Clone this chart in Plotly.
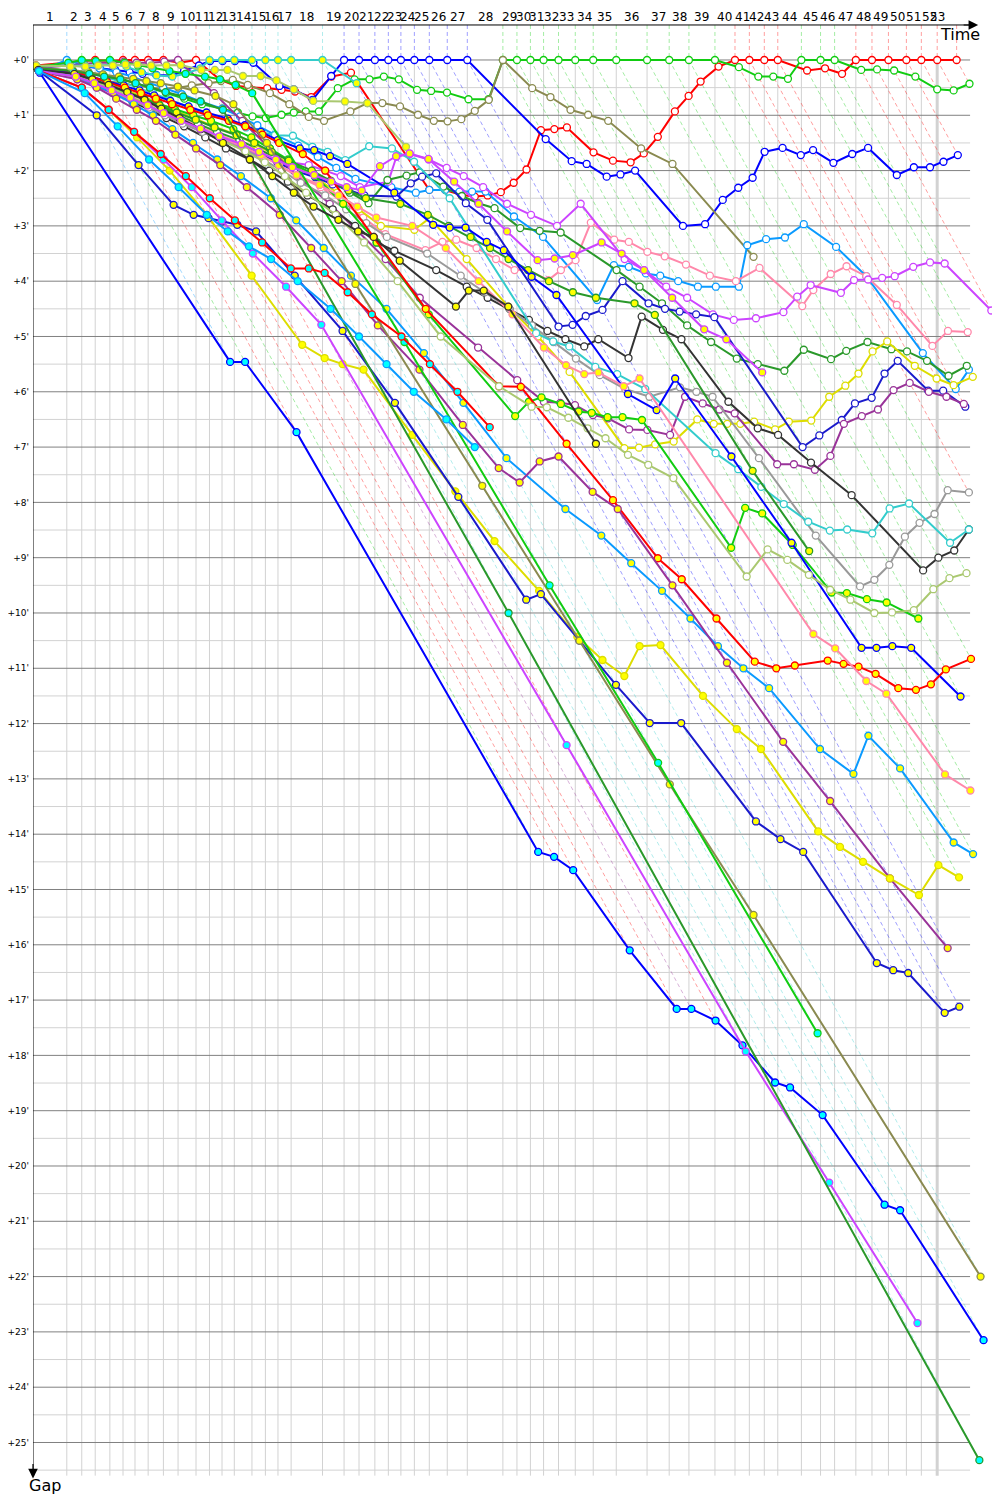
import plotly.graph_objects as go

# Leader's cumulative time (minutes) at the end of each lap, lap 0 .. 53
LAP_END = [0.00, 1.13, 1.63, 2.08, 2.57, 3.01, 3.41, 3.85, 4.36, 4.85, 5.45,
           5.90, 6.32, 6.73, 7.32, 7.77, 8.19, 8.63, 9.68, 10.40, 10.90,
           11.43, 11.88, 12.30, 12.75, 13.25, 13.85, 14.52, 15.71, 16.18, 16.63,
           17.07, 17.57, 18.13, 18.73, 19.50, 20.53, 21.27, 21.93, 22.80, 23.47,
           23.95, 24.45, 24.90, 25.69, 26.33, 26.80, 27.51, 28.05, 28.60, 29.20,
           29.70, 30.23, 30.88]
LAP_LABELS = [str(i) for i in range(1, 54)]
GAP_TICKS = list(range(0, 26))
GAP_LABELS = ["+%d'" % g for g in GAP_TICKS]

# Gap to the leader (minutes) of each car, lap 0, 1, 2, ...
RED_W = [0.10, 0.05, 0.03, 0.00, 0.02, 0.00, 0.00, 0.00, 0.00, 0.05, 0.00,
         0.36, 0.47, 0.49, 0.51, 0.54, 0.57, 0.67, 0.30, 0.23,
         2.35, 2.35, 2.44, 2.47, 2.45, 2.39, 2.22, 1.98,
         1.27, 1.25, 1.22, 1.67, 1.82, 1.85, 1.69, 1.39, 0.93, 0.65, 0.39, 0.12,
         0.00, 0.00, 0.00, 0.00, 0.19, 0.15, 0.25,
         0.00, 0.00, 0.00, 0.00, 0.00, 0.00, 0.00]
GREEN_W = [0.15, 0.20, 0.22, 0.28, 0.33, 0.42, 0.50, 0.60, 0.70, 0.80, 0.88,
           0.95, 1.02, 1.05, 0.99, 0.95, 0.93, 0.93, 0.51, 0.35, 0.35, 0.30,
           0.35, 0.54, 0.56, 0.59, 0.71, 0.71,
           0.00, 0.00, 0.00, 0.00, 0.00, 0.00, 0.00, 0.00, 0.00, 0.00, 0.00, 0.00,
           0.13, 0.30, 0.30, 0.34, 0.00, 0.00, 0.00,
           0.18, 0.17, 0.19, 0.30, 0.53, 0.55, 0.43]
BLUE_W = [0.12, 0.10, 0.12, 0.15, 0.18, 0.22, 0.25, 0.27, 0.28, 0.20, 0.10,
          0.02, 0.02, 0.02, 0.05, 0.47, 0.53, 0.72, 0.29,
          0.00, 0.00, 0.00, 0.00, 0.00, 0.00, 0.00, 0.00, 0.00,
          1.43, 1.83, 1.88, 2.11, 2.07, 2.00, 3.00, 2.97, 2.53, 2.31, 2.13, 1.66,
          1.59, 1.72, 1.63, 1.86, 1.70, 1.59, 2.08, 1.94, 1.94, 1.84, 1.72]
OLIVE_W = [0.20, 0.28, 0.33, 0.38, 0.42, 0.46, 0.50, 0.52, 0.50, 0.46, 0.42,
           0.38, 0.36, 0.45, 0.60, 0.80, 1.03, 1.10, 0.93, 0.78, 0.78, 0.84,
           0.99, 1.10, 1.11, 1.07, 0.92, 0.72, 0.00, 0.51, 0.67, 0.90, 0.99,
           1.10, 1.60, 1.88, 3.56]
DODGER_W = [0.20, 0.00, 0.10, 0.15, 0.22, 0.30, 0.40, 0.50, 0.62, 0.75, 0.88,
            1.02, 1.18, 1.35, 1.55, 1.75, 1.95, 2.15, 2.30, 2.40, 2.35, 2.35,
            2.38, 2.38, 2.38, 2.83, 3.20, 4.34, 3.71, 3.74, 3.86, 3.90, 4.00,
            4.10, 4.10, 4.10, 3.35, 3.24, 3.21, 2.97, 3.38, 3.91, 5.30, 5.95, 5.60]
PINK_W = [0.20, 0.30, 0.40, 0.50, 0.60, 0.75, 0.90, 1.05, 1.20, 1.35, 1.50,
          1.70, 1.90, 2.10, 2.30, 2.55, 2.85, 3.15, 3.44, 3.29, 3.25, 3.40,
          3.60, 3.80, 3.80, 3.98, 3.80, 3.62, 2.94, 3.25, 3.29, 3.47, 3.55,
          3.70, 3.90, 4.00, 3.76, 4.45, 4.16, 3.87, 3.73, 3.91, 4.43, 5.17,
          4.90, 4.92]
MAGENTA_W = [0.20, 0.35, 0.50, 0.60, 0.70, 0.85, 1.00, 1.15, 1.30, 1.45, 1.60,
             1.75, 1.80, 1.85, 1.90, 2.00, 2.10, 2.30, 2.20, 1.75, 1.70, 1.80,
             1.95, 2.10, 2.30, 2.60, 2.80, 3.00, 2.60, 3.60, 3.80, 4.10, 4.30,
             4.60, 4.70, 4.67, 4.56, 4.28, 4.07, 4.21, 3.98, 3.97, 3.94, 3.91,
             3.74, 3.66, 3.68, 4.53]
FOREST_W = [0.15, 0.25, 0.35, 0.45, 0.55, 0.70, 0.85, 1.00, 1.15, 1.30, 1.45,
            1.60, 1.75, 1.90, 2.05, 2.20, 2.40, 2.59, 2.17, 2.09, 2.03, 2.29,
            2.46, 2.59, 2.68, 3.04, 3.09, 3.12, 3.80, 4.10, 4.40, 4.80, 5.10,
            5.40, 5.50, 5.62, 5.24, 5.41, 5.26, 5.10, 5.23, 5.27, 5.44, 5.71, 5.53]
YELLOW_W = [0.20, 0.28, 0.36, 0.45, 0.55, 0.65, 0.78, 0.92, 1.06, 1.20, 1.35,
            1.52, 1.70, 1.90, 2.12, 2.40, 2.70, 3.00, 3.07, 2.86, 3.60, 4.46,
            5.00, 5.64, 7.02, 7.01, 6.95, 6.90, 6.50, 6.58, 6.58, 6.58, 6.54,
            6.68, 6.54, 6.52, 6.09, 5.89, 5.67, 5.27, 5.09, 5.53, 5.76, 5.88, 5.73]
NAVY_W = [0.18, 0.30, 0.42, 0.55, 0.68, 0.82, 0.96, 1.10, 1.25, 1.40, 1.55,
          1.70, 1.85, 2.00, 2.12, 2.25, 2.35, 2.45, 2.47, 2.23, 2.11, 2.05,
          2.59, 2.89, 4.82, 4.79, 4.63, 4.52, 4.00, 4.40, 4.50, 4.55, 4.60,
          4.65, 7.00, 6.79, 6.51, 6.21, 6.11, 5.67, 5.44, 5.98, 5.98, 6.27]
PURPLE_W = [0.15, 0.10, 0.08, 0.05, 0.05, 0.03, 0.05, 0.05, 0.03, 0.00, 0.60,
            1.10, 1.60, 2.10, 2.60, 3.10, 3.60, 4.30, 5.20, 5.79, 6.18, 6.20,
            6.24, 6.42, 6.48, 6.68, 6.69, 6.78, 6.09, 6.21, 6.32, 6.39, 7.31,
            7.31, 7.41, 7.16, 6.58, 6.44, 6.32, 5.97, 5.84, 6.00, 6.09, 6.22]
BLACK_W = [0.20, 0.30, 0.45, 0.60, 0.75, 0.90, 1.05, 1.20, 1.40, 1.60, 1.80,
           2.00, 2.20, 2.45, 2.70, 3.00, 3.30, 3.45, 3.80, 4.10, 4.30, 4.50,
           4.70, 4.90, 5.05, 5.18, 5.05, 5.39, 4.64, 4.88, 5.05, 6.18, 6.66,
           6.78, 7.28, 7.87, 9.23, 9.00, 8.87, 8.49]
GRAY_W = [0.20, 0.32, 0.45, 0.58, 0.72, 0.86, 1.00, 1.15, 1.30, 1.46, 1.62,
          1.80, 2.00, 2.22, 2.45, 2.70, 2.95, 3.20, 3.50, 3.90, 4.20, 4.50,
          4.80, 5.10, 5.40, 5.70, 5.95, 6.09, 5.92, 6.00, 6.09, 7.20, 8.60,
          9.52, 9.40, 9.13, 8.62, 8.37, 8.21, 7.78, 7.82]
TURQ_W = [0.15, 0.20, 0.25, 0.30, 0.40, 0.50, 0.60, 0.72, 0.85, 0.98, 1.10,
          1.22, 1.30, 1.36, 1.37, 1.57, 1.66, 1.81, 1.56, 1.60, 1.84, 2.50,
          4.94, 5.09, 5.18, 5.55, 5.68, 5.95, 7.11, 7.40, 7.72, 8.03, 8.35,
          8.51, 8.49, 8.56, 8.11, 8.02, 8.73, 8.49]
TURQ_Y = [0.12, 0.10, 0.10, 0.10, 0.08, 0.12, 0.22, 0.28, 0.30, 0.25, 0.15,
          0.00, 0.00, 0.00, 0.00, 0.00, 0.00, 0.00, 0.00, 0.42]
GREEN_Y = [0.20, 0.30, 0.40, 0.50, 0.60, 0.70, 0.80, 0.90, 1.00, 1.10, 1.25,
           1.40, 1.60, 1.80, 2.10, 2.60, 3.30, 4.60, 6.44, 6.18, 6.10, 6.22,
           6.36, 6.38, 6.46, 6.46, 6.51, 8.82, 8.10, 8.20, 8.77, 9.63, 9.64,
           9.75, 9.81, 10.10]
FOREST_Y = [0.18, 0.28, 0.38, 0.48, 0.58, 0.70, 0.82, 0.95, 1.08, 1.22, 1.36,
            1.50, 1.66, 1.82, 2.00, 2.18, 2.36, 2.50, 2.60, 2.80, 3.00, 3.20,
            3.40, 3.60, 3.80, 4.00, 4.20, 4.30, 4.40, 4.61, 7.43, 8.88]
BLUE_Y = [0.15, 0.22, 0.30, 0.38, 0.46, 0.55, 0.64, 0.74, 0.84, 0.95, 1.06,
          1.18, 1.30, 1.45, 1.60, 1.63, 1.74, 1.88, 2.40, 2.98, 3.03, 3.03,
          3.29, 3.44, 3.92, 4.25, 6.04, 6.33, 5.76, 7.17, 8.73, 10.63, 10.63,
          10.60, 10.63, 11.51]
RED_Y = [0.15, 0.20, 0.30, 0.40, 0.50, 0.60, 0.70, 0.80, 0.90, 1.00, 1.10,
         1.20, 1.35, 1.50, 1.70, 2.00, 3.20, 4.50, 5.90, 5.91, 6.94, 7.96,
         9.01, 9.39, 10.10, 10.88, 11.00, 10.95, 10.86, 10.92, 10.97, 11.10,
         11.36, 11.39, 11.29, 11.02, 10.83]
PINK_Y = [0.20, 0.30, 0.42, 0.55, 0.68, 0.82, 0.96, 1.10, 1.25, 1.40, 1.56,
          1.72, 1.90, 2.08, 2.26, 2.45, 2.65, 2.85, 3.00, 3.40, 4.00, 4.60,
          5.20, 5.52, 5.68, 5.65, 5.90, 5.76, 10.38, 10.64, 11.23, 11.46,
          12.92, 13.21]
DODGER_Y = [0.20, 0.30, 0.45, 0.60, 0.80, 1.00, 1.25, 1.50, 1.80, 2.10, 2.50,
            2.90, 3.40, 3.90, 4.50, 5.30, 6.20, 7.20, 8.12, 8.60, 9.10, 9.60,
            10.10, 10.60, 11.00, 11.36, 12.46, 12.91, 12.22, 12.81, 14.15, 14.36]
PURPLE_Y = [0.20, 0.35, 0.50, 0.70, 0.90, 1.10, 1.35, 1.60, 1.90, 2.30, 2.80,
            3.40, 4.00, 4.80, 5.60, 6.60, 7.38, 7.64, 7.26, 7.17, 7.81, 8.12,
            9.50, 10.90, 12.33, 13.40, 14.80, 16.06]
YELLOW_Y = [0.20, 0.50, 0.90, 1.40, 2.00, 2.80, 3.90, 5.15, 5.39, 5.50, 5.60,
            6.78, 7.80, 8.70, 9.60, 10.43, 10.85, 11.14, 10.60, 10.58, 11.50,
            12.10, 12.46, 13.95, 14.23, 14.50, 14.80, 15.10, 14.56, 14.78]
NAVY_Y = [0.20, 1.00, 1.90, 2.62, 2.80, 2.86, 2.92, 2.98, 3.10, 3.90, 4.90,
          6.20, 7.90, 9.76, 9.66, 10.50, 11.30, 11.99, 11.99, 13.77, 14.09,
          14.32, 16.33, 16.46, 16.51, 17.23, 17.12]
OLIVE_Y = [0.15, 0.18, 0.22, 0.26, 0.30, 0.34, 0.38, 0.42, 0.48, 0.55, 0.65,
           0.80, 1.50, 4.05, 7.70, 10.50, 13.10, 15.46, 22.00]
BLUE_C = [0.23, 5.46, 5.46, 6.73, 14.32, 14.41, 14.65, 16.10, 17.16, 17.16,
          17.37, 17.82, 18.49, 18.58, 19.08, 20.70, 20.80, 23.15]
MAGENTA_C = [0.20, 0.50, 0.90, 1.30, 1.80, 2.30, 2.90, 3.50, 4.10, 4.79,
             12.39, 17.93, 20.30, 22.84]
FOREST_C = [0.15, 0.20, 0.25, 0.30, 0.35, 0.42, 0.50, 0.58, 0.66, 0.75, 0.90,
            10.00, 25.32]
GREEN_C = [0.12, 0.05, 0.00, 0.02, 0.00, 0.05, 0.10, 0.15, 0.20, 0.25, 0.30,
           0.35, 0.45, 0.60, 5.10, 9.50, 12.71, 17.60]
LOLIVE_W = [0.20, 0.30, 0.40, 0.50, 0.65, 0.80, 0.95, 1.10, 1.25, 1.45, 1.65,
            1.85, 2.10, 2.40, 2.80, 3.30, 4.00, 5.00, 5.90, 6.27, 6.28, 6.47,
            6.66, 6.84, 7.14, 7.32, 7.56, 9.34, 8.85, 9.04, 9.31, 9.58, 9.76,
            10.00, 9.99, 9.95, 9.57, 9.37, 9.28]
LOLIVE_Y = [0.10, 0.12, 0.12, 0.10, 0.10, 0.08, 0.08, 0.10, 0.10, 0.09, 0.18,
            0.18, 0.18, 0.29, 0.29, 0.37, 0.53, 0.74, 0.75, 0.78, 1.57]
BLACK_Y = [0.18, 0.25, 0.35, 0.45, 0.58, 0.72, 0.88, 1.05, 1.25, 1.50, 1.80,
           2.10, 2.40, 2.65, 2.89, 3.10, 3.20, 3.63, 4.46, 4.17, 4.17, 4.46, 6.94]
MAGENTA_Y = [0.20, 0.30, 0.42, 0.55, 0.68, 0.82, 0.96, 1.10, 1.24, 1.38, 1.52,
             1.66, 1.80, 1.94, 2.08, 2.20, 2.30, 2.36, 1.92, 1.74, 1.69, 1.79,
             2.20, 2.60, 3.10, 3.62, 3.59, 3.53, 3.30, 3.50, 3.80, 4.30, 4.87,
             5.05, 5.65]
RED_C = [0.20, 0.50, 0.90, 1.30, 1.70, 2.10, 2.50, 2.90, 3.30, 3.77, 3.77,
         3.85, 4.20, 4.60, 5.00, 5.50, 6.00, 6.64]
DODGER_C = [0.20, 0.60, 1.20, 1.80, 2.30, 2.80, 3.10, 3.37, 3.60, 4.00, 4.50,
            5.00, 5.50, 6.00, 6.50, 7.00]

# ---- styles -------------------------------------------------------------
RED, GREEN, BLUE, DODGER = "#ff0000", "#11cc11", "#0000ff", "#0a9aff"
PINK, MAGENTA, FOREST, YELLOW = "#ff88aa", "#cc44ff", "#2a992a", "#dddd00"
NAVY, PURPLE, BLACK, GRAY = "#1a1acc", "#993399", "#333333", "#999999"
TURQ, OLIVE, LOLIVE = "#33cccc", "#8a8a50", "#aac870"
WF, YF, CF = "#ffffff", "#ffff00", "#00ffff"

CARS = [
    (RED_W, RED, WF), (GREEN_W, GREEN, WF), (BLUE_W, BLUE, WF),
    (OLIVE_W, OLIVE, WF), (DODGER_W, DODGER, WF), (PINK_W, PINK, WF),
    (MAGENTA_W, MAGENTA, WF), (FOREST_W, FOREST, WF), (YELLOW_W, YELLOW, WF),
    (NAVY_W, NAVY, WF), (PURPLE_W, PURPLE, WF), (BLACK_W, BLACK, WF),
    (GRAY_W, GRAY, WF), (TURQ_W, TURQ, WF), (TURQ_Y, TURQ, YF),
    (GREEN_Y, GREEN, YF), (FOREST_Y, FOREST, YF), (BLUE_Y, BLUE, YF),
    (RED_Y, RED, YF), (PINK_Y, PINK, YF), (DODGER_Y, DODGER, YF),
    (PURPLE_Y, PURPLE, YF), (YELLOW_Y, YELLOW, YF), (NAVY_Y, NAVY, YF),
    (OLIVE_Y, OLIVE, YF), (BLUE_C, BLUE, CF), (MAGENTA_C, MAGENTA, CF),
    (FOREST_C, FOREST, CF), (GREEN_C, GREEN, CF), (LOLIVE_W, LOLIVE, WF),
    (LOLIVE_Y, LOLIVE, YF), (BLACK_Y, BLACK, YF), (MAGENTA_Y, MAGENTA, YF),
    (RED_C, RED, CF), (DODGER_C, DODGER, CF),
]

N_LAPS = len(LAP_END) - 1
TOP = -0.633      # gap value of the "Time" axis line
BOTTOM = 25.6     # gap value where the grid ends
X_GRID_END = 31.33
X_ARROW = 31.6


def rgba(hex_color, a):
    h = hex_color.lstrip("#")
    return "rgba(%d,%d,%d,%.2f)" % (int(h[0:2], 16), int(h[2:4], 16), int(h[4:6], 16), a)


fig = go.Figure()

# light vertical grid at every lap end (the last drawn one is thicker)
vx, vy = [], []
for k in range(1, N_LAPS - 1):
    vx += [LAP_END[k], LAP_END[k], None]
    vy += [0, BOTTOM, None]
fig.add_trace(go.Scatter(x=vx, y=vy, mode="lines", line=dict(color="#d2d2d2", width=1),
                         hoverinfo="skip"))
fig.add_trace(go.Scatter(x=[LAP_END[N_LAPS - 1]] * 2, y=[0, BOTTOM], mode="lines",
                         line=dict(color="#d2d2d2", width=3), hoverinfo="skip"))

# horizontal grid
hx, hy, mx, my = [], [], [], []
for g in GAP_TICKS:
    hx += [0, X_GRID_END, None]
    hy += [g, g, None]
    mx += [0, X_GRID_END, None]
    my += [g + 0.5, g + 0.5, None]
fig.add_trace(go.Scatter(x=mx, y=my, mode="lines", line=dict(color="#d2d2d2", width=1),
                         hoverinfo="skip"))
fig.add_trace(go.Scatter(x=hx, y=hy, mode="lines", line=dict(color="#808080", width=1),
                         hoverinfo="skip"))

# dashed iso-lap lines coloured by that lap's leader
dash_groups = {}
for k in range(1, N_LAPS + 1):
    on_lap = [(c[0][k], c[1]) for c in CARS if len(c[0]) > k]
    if not on_lap:
        continue
    lead = min(g for g, _ in on_lap)
    lead_col = next(col for g, col in on_lap if g == lead)
    gmax = max(g for g, _ in on_lap)
    xs, ys = dash_groups.setdefault(lead_col, ([], []))
    xs += [LAP_END[k], LAP_END[k], LAP_END[k] + gmax, None]
    ys += [TOP, 0, gmax, None]
for col, (xs, ys) in dash_groups.items():
    fig.add_trace(go.Scatter(x=xs, y=ys, mode="lines",
                             line=dict(color=rgba(col, 0.38), width=1, dash="4px,3px"),
                             hoverinfo="skip"))

# cars: marker of lap k sits at time = leader time of lap k + gap
for gaps, col, fill in CARS:
    xs = [LAP_END[k] + g for k, g in enumerate(gaps)]
    fig.add_trace(go.Scatter(
        x=xs, y=gaps, mode="lines+markers",
        line=dict(color=col, width=2),
        marker=dict(size=7, color=fill, line=dict(color=col, width=1.3)),
        hoverinfo="skip"))

# axis lines
fig.add_shape(type="line", x0=0, x1=X_ARROW - 0.2, y0=TOP, y1=TOP,
              line=dict(color="black", width=1))
fig.add_shape(type="line", x0=0, x1=0, y0=TOP, y1=BOTTOM - 0.1,
              line=dict(color="black", width=1))

ann = []
ann.append(dict(x=X_ARROW, y=TOP, ax=-16, ay=0, showarrow=True, arrowhead=2,
                arrowsize=1.6, arrowwidth=1.2, arrowcolor="black", text=""))
ann.append(dict(x=0, y=BOTTOM + 0.05, ax=0, ay=-16, showarrow=True, arrowhead=2,
                arrowsize=1.6, arrowwidth=1.2, arrowcolor="black", text=""))
for i, lab in enumerate(LAP_LABELS):
    k = i + 1
    if k < N_LAPS:
        xm = (LAP_END[k - 1] + LAP_END[k]) / 2
    else:
        xm = LAP_END[k - 1]
    ann.append(dict(x=xm, y=-0.78, text=lab, showarrow=False,
                    font=dict(size=12, color="black", family="DejaVu Sans")))
ann.append(dict(x=30.99, y=-0.46, text="Time", showarrow=False,
                font=dict(size=16, color="black", family="DejaVu Sans")))
ann.append(dict(xref="paper", x=-0.006, y=25.78, text="Gap", showarrow=False,
                font=dict(size=16, color="black", family="DejaVu Sans")))

# the page body adds an 8px offset, so the figure is 992x1492 and shifted accordingly
fig.update_layout(
    width=992, height=1492,
    margin=dict(l=22, r=0, t=0, b=0),
    plot_bgcolor="white", paper_bgcolor="white",
    showlegend=False,
    annotations=ann,
    xaxis=dict(range=[0, 32.33], visible=False, fixedrange=True),
    yaxis=dict(range=[26.04, -0.94], tickmode="array", tickvals=GAP_TICKS,
               ticktext=GAP_LABELS, showgrid=False, zeroline=False, showline=False,
               ticks="", tickfont=dict(size=9, color="black", family="DejaVu Sans"),
               ticklabelstandoff=3),
)

fig.write_html("out.html")
